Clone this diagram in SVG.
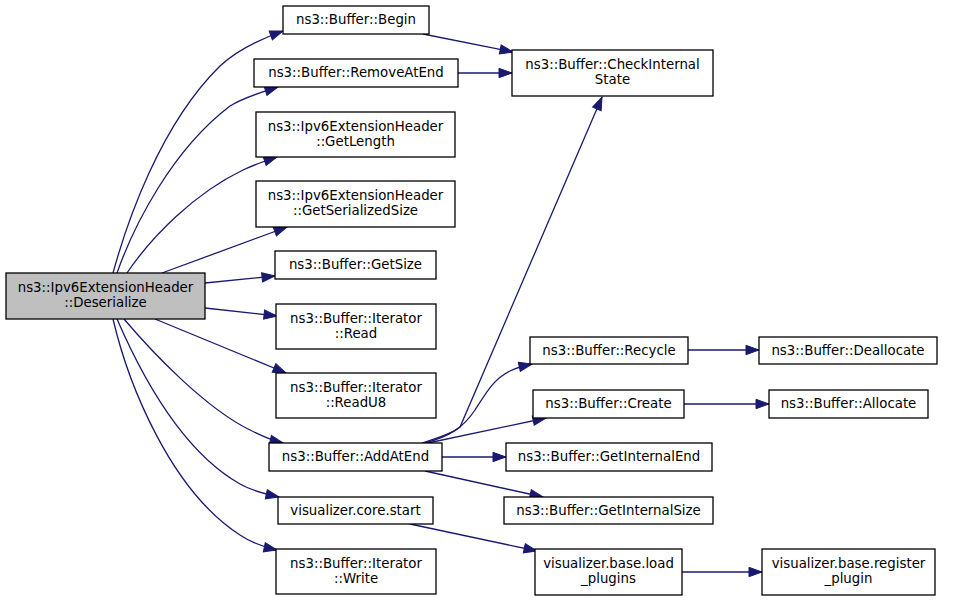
<svg xmlns="http://www.w3.org/2000/svg" width="955" height="600" viewBox="0 0 955 600">
<style>
.n rect{fill:#ffffff;stroke:#000000;stroke-width:1.3}
.n.root rect{fill:#bfbfbf;stroke:#000000}
.n text{font-family:"DejaVu Sans","Liberation Sans",sans-serif;font-size:13.33px;text-anchor:middle;fill:#000000}
.e path{fill:none;stroke:#191970;stroke-width:1.3;marker-end:url(#ah)}
</style>
<defs>
<marker id="ah" markerUnits="userSpaceOnUse" markerWidth="14" markerHeight="10" refX="13" refY="4.67" orient="auto" overflow="visible">
<path d="M0,0 L13,4.67 L0,9.33 z" fill="#191970" stroke="#191970" stroke-width="1"/>
</marker>
</defs>
<rect x="0" y="0" width="955" height="600" fill="#ffffff"/>
<g id="connectors" class="e">
<path d="M113,273 C127,222 160,125 220,66 C236,51 258,40 283,31"/>
<path d="M117,273 C134,225 172,150 230,106 C245,97 262,92 278,87"/>
<path d="M127,273 C152,236 195,193 243,170 C253,165 265,161 277,157"/>
<path d="M162,273 L287,227"/>
<path d="M205,283 L275,276"/>
<path d="M205,308 L277,316"/>
<path d="M155,319 L286,373"/>
<path d="M124,319 C152,352 205,408 250,430 C260,435 270,440 283,443"/>
<path d="M117,319 C140,372 180,450 240,484 C252,491 265,494 279,497"/>
<path d="M113,319 C128,383 170,490 240,535 C252,543 263,547 277,550"/>
<path d="M423,34 L513,52"/>
<path d="M458,73 L512,73"/>
<path d="M422,443 C438,438 453,433 460,427 L602,97"/>
<path d="M425,443 C450,436 463,428 475,410 C487,391 495,378 510,371 C516,368 523,366 532,364"/>
<path d="M428,443 L546,418"/>
<path d="M442,457 L506,457"/>
<path d="M425,471 L543,497"/>
<path d="M410,524 L537,551"/>
<path d="M688,350 L759,350"/>
<path d="M684,404 L769,404"/>
<path d="M682,572 L762,572"/>
</g>
<g id="node-root" class="n root"><rect x="6" y="273" width="199" height="46"/><text x="105.5" y="291.5">ns3::Ipv6ExtensionHeader</text><text x="105.5" y="307">::Deserialize</text></g>
<g id="node-begin" class="n"><rect x="283" y="6" width="146" height="28"/><text x="356" y="24">ns3::Buffer::Begin</text></g>
<g id="node-removeatend" class="n"><rect x="254" y="59" width="204" height="28"/><text x="356" y="77">ns3::Buffer::RemoveAtEnd</text></g>
<g id="node-getlength" class="n"><rect x="256" y="112" width="199" height="45"/><text x="355.5" y="130.5">ns3::Ipv6ExtensionHeader</text><text x="355.5" y="146">::GetLength</text></g>
<g id="node-getserializedsize" class="n"><rect x="256" y="181" width="199" height="46"/><text x="355.5" y="199.5">ns3::Ipv6ExtensionHeader</text><text x="355.5" y="215">::GetSerializedSize</text></g>
<g id="node-getsize" class="n"><rect x="275" y="251" width="161" height="28"/><text x="355.5" y="269">ns3::Buffer::GetSize</text></g>
<g id="node-read" class="n"><rect x="276" y="304" width="160" height="45"/><text x="356" y="322.5">ns3::Buffer::Iterator</text><text x="356" y="338">::Read</text></g>
<g id="node-readu8" class="n"><rect x="276" y="373" width="160" height="45"/><text x="356" y="391.5">ns3::Buffer::Iterator</text><text x="356" y="407">::ReadU8</text></g>
<g id="node-addatend" class="n"><rect x="269" y="443" width="173" height="28"/><text x="355.5" y="461">ns3::Buffer::AddAtEnd</text></g>
<g id="node-corestart" class="n"><rect x="278" y="497" width="155" height="27"/><text x="355.5" y="515">visualizer.core.start</text></g>
<g id="node-write" class="n"><rect x="276" y="549" width="160" height="45"/><text x="356" y="567.5">ns3::Buffer::Iterator</text><text x="356" y="583">::Write</text></g>
<g id="node-checkinternalstate" class="n"><rect x="512" y="50" width="201" height="46"/><text x="612.5" y="68.5">ns3::Buffer::CheckInternal</text><text x="612.5" y="84">State</text></g>
<g id="node-recycle" class="n"><rect x="530" y="337" width="158" height="27"/><text x="609" y="355">ns3::Buffer::Recycle</text></g>
<g id="node-deallocate" class="n"><rect x="759" y="337" width="178" height="27"/><text x="848" y="355">ns3::Buffer::Deallocate</text></g>
<g id="node-create" class="n"><rect x="533" y="390" width="151" height="28"/><text x="608.5" y="408">ns3::Buffer::Create</text></g>
<g id="node-allocate" class="n"><rect x="769" y="390" width="159" height="28"/><text x="848.5" y="408">ns3::Buffer::Allocate</text></g>
<g id="node-getinternalend" class="n"><rect x="506" y="443" width="206" height="28"/><text x="609" y="461">ns3::Buffer::GetInternalEnd</text></g>
<g id="node-getinternalsize" class="n"><rect x="504" y="497" width="209" height="27"/><text x="608.5" y="515">ns3::Buffer::GetInternalSize</text></g>
<g id="node-loadplugins" class="n"><rect x="535" y="549" width="147" height="46"/><text x="608.5" y="567.5">visualizer.base.load</text><text x="608.5" y="583">_plugins</text></g>
<g id="node-registerplugin" class="n"><rect x="762" y="549" width="173" height="46"/><text x="848.5" y="567.5">visualizer.base.register</text><text x="848.5" y="583">_plugin</text></g>
</svg>
